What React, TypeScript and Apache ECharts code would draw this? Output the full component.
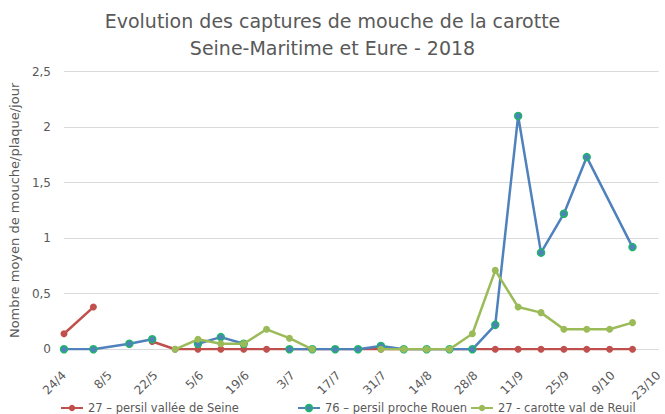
import React, { useEffect, useRef } from "react";
import * as echarts from "echarts";

const startDate = "2018-04-24";
const axisDays = 182;
const tickDays = 14;

const dates = [
  "2018-04-24", "2018-05-03", "2018-05-14", "2018-05-21", "2018-05-28",
  "2018-06-04", "2018-06-11", "2018-06-18", "2018-06-25", "2018-07-02",
  "2018-07-09", "2018-07-16", "2018-07-23", "2018-07-30", "2018-08-06",
  "2018-08-13", "2018-08-20", "2018-08-27", "2018-09-03", "2018-09-10",
  "2018-09-17", "2018-09-24", "2018-10-01", "2018-10-08", "2018-10-15",
];

// null = gap in the line, undefined = no reading (line continues)
const persilSeine: (number | null | undefined)[] = [
  0.14, 0.38, null, 0.07, 0, 0, 0, 0, 0, 0, 0, 0, 0, 0, 0, 0, 0, 0, 0, 0, 0, 0, 0, 0, 0,
];
const persilRouen: (number | null | undefined)[] = [
  0, 0, 0.05, 0.09, null, 0.05, 0.11, 0.05, null, 0, 0, 0, 0, 0.03, 0, 0, 0, 0, 0.22, 2.1, 0.87, 1.22, 1.73, undefined, 0.92,
];
const carotteReuil: (number | null | undefined)[] = [
  null, null, null, null, 0, 0.09, 0.05, 0.05, 0.18, 0.1, 0, null, null, 0, 0, 0, 0, 0.14, 0.71, 0.38, 0.33, 0.18, 0.18, 0.18, 0.24,
];

const seriesNames = [
  "27 – persil vallée de Seine",
  "76 – persil proche Rouen",
  "27 - carotte val de Reuil",
];

const titleText = "Evolution des captures de mouche de la carotte\nSeine-Maritime et Eure - 2018";
const yAxisName = "Nombre moyen de mouche/plaque/jour";

const DAY = 86400000;
const t0 = Date.parse(startDate + "T00:00:00Z");
const dayOffset = (d: string) => Math.round((Date.parse(d + "T00:00:00Z") - t0) / DAY);
const toPairs = (vals: (number | null | undefined)[]) =>
  dates
    .map((d, i) => [dayOffset(d), vals[i]] as [number, number | null | undefined])
    .filter((p) => p[1] !== undefined)
    .map((p) => [p[0], p[1] === null ? "-" : p[1]]);

const FONT = "DejaVu Sans";
const GREY = "#595959";

export default function App() {
  const ref = useRef<HTMLDivElement>(null);
  useEffect(() => {
    if (!ref.current) return;
    const chart = echarts.init(ref.current, null, { renderer: "svg" });
    const lineSeries = (name: string, vals: (number | null | undefined)[], color: string, border: string, z: number) => ({
      name,
      type: "line",
      data: toPairs(vals),
      symbol: "circle",
      symbolSize: 7,
      showAllSymbol: true,
      connectNulls: false,
      z,
      lineStyle: { color, width: 2.5 },
      itemStyle: { color, borderColor: border, borderWidth: border === color ? 0 : 1.5 },
      emphasis: { disabled: true },
    });
    const legendBase = {
      top: 397,
      itemWidth: 22,
      itemHeight: 8,
      textStyle: { color: GREY, fontSize: 11.5, fontFamily: FONT },
    };
    chart.setOption({
      animation: false,
      backgroundColor: "#ffffff",
      title: {
        text: titleText,
        left: "center",
        top: 2,
        textStyle: { color: GREY, fontSize: 19, fontWeight: "normal", fontFamily: FONT, lineHeight: 27 },
      },
      legend: [
        { ...legendBase, left: 55, data: [seriesNames[0]] },
        { ...legendBase, left: 292, data: [seriesNames[1]] },
        { ...legendBase, left: 465, data: [seriesNames[2]] },
      ],
      grid: { left: 63, right: 2, top: 71.5, bottom: 64.7, containLabel: false },
      xAxis: {
        type: "value",
        min: 0,
        max: axisDays,
        interval: tickDays,
        splitLine: { show: false },
        axisTick: { show: false },
        axisLine: { show: true, lineStyle: { color: "#D9D9D9", width: 1 } },
        axisLabel: {
          rotate: 45,
          margin: 24,
          color: GREY,
          fontSize: 12,
          fontFamily: FONT,
          formatter: (v: number) => {
            const d = new Date(t0 + v * DAY);
            return `${d.getUTCDate()}/${d.getUTCMonth() + 1}`;
          },
        },
      },
      yAxis: {
        type: "value",
        min: 0,
        max: 2.5,
        interval: 0.5,
        name: yAxisName,
        nameLocation: "middle",
        nameRotate: 90,
        nameGap: 43,
        nameTextStyle: { color: GREY, fontSize: 13, fontFamily: FONT },
        axisLine: { show: false },
        axisTick: { show: false },
        splitLine: { lineStyle: { color: "#D9D9D9", width: 1 } },
        axisLabel: {
          margin: 13,
          color: GREY,
          fontSize: 12,
          fontFamily: FONT,
          formatter: (v: number) => String(v).replace(".", ","),
        },
      },
      series: [
        lineSeries(seriesNames[0], persilSeine, "#C0504D", "#C0504D", 2),
        lineSeries(seriesNames[1], persilRouen, "#4F81BD", "#1FB46A", 3),
        lineSeries(seriesNames[2], carotteReuil, "#9BBB59", "#9BBB59", 4),
      ],
    });
    return () => chart.dispose();
  }, []);
  return <div ref={ref} style={{ position: "absolute", left: 0, top: 0, width: 665, height: 414 }} />;
}
